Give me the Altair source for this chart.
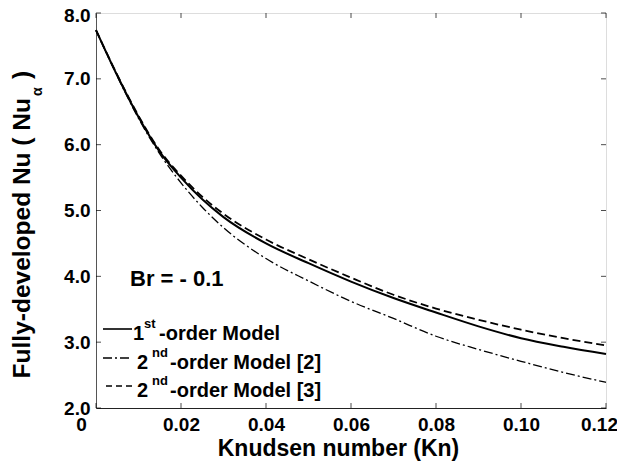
import altair as alt
import pandas as pd

# ---- data ----
kn = [0.0, 0.005, 0.01, 0.015, 0.02, 0.025, 0.03, 0.04, 0.05, 0.06, 0.07, 0.08, 0.09, 0.10, 0.11, 0.12]
nu_first = [7.74, 7.05, 6.42, 5.89, 5.50, 5.17, 4.90, 4.50, 4.20, 3.92, 3.67, 3.45, 3.24, 3.06, 2.93, 2.82]
nu_second_2 = [7.74, 7.04, 6.40, 5.86, 5.42, 5.05, 4.74, 4.27, 3.93, 3.62, 3.36, 3.09, 2.89, 2.71, 2.54, 2.39]
nu_second_3 = [7.74, 7.06, 6.44, 5.91, 5.53, 5.21, 4.95, 4.56, 4.26, 3.98, 3.72, 3.51, 3.34, 3.19, 3.06, 2.95]

x_ticks = [0.0, 0.02, 0.04, 0.06, 0.08, 0.10, 0.12]
y_ticks = [2.0, 3.0, 4.0, 5.0, 6.0, 7.0, 8.0]

W, H = 510, 395
FONT = "Liberation Sans"

df = pd.DataFrame({"kn": kn, "first": nu_first, "second2": nu_second_2, "second3": nu_second_3})

xs = alt.Scale(domain=[0, 0.12], nice=False, zero=False)
ys = alt.Scale(domain=[2, 8], nice=False, zero=False)

x_axis = alt.Axis(
    values=x_ticks, labelExpr="datum.value == 0 ? '0' : format(datum.value, '.2f')",
    title="Knudsen number (Kn)", titleFontSize=23, titleFont=FONT, titleFontWeight="bold",
    titleX=242, titleY=47, titleBaseline="alphabetic", titleAnchor="start", titleAlign="center",
    labelFontSize=19, labelFont=FONT, labelFontWeight="bold", labelPadding=7,
    labelOffset={"condition": [{"test": "datum.value == 0", "value": -15},
                               {"test": "datum.value > 0.11", "value": -7}], "value": 0},
    ticks=False, grid=False, labelFlush=False, labelOverlap=False, domainColor="#222",
)
y_axis = alt.Axis(
    values=y_ticks, format=".1f", title=None,
    labelFontSize=19, labelFont=FONT, labelFontWeight="bold", labelPadding=6,
    labelOffset={"condition": {"test": "datum.value == 8", "value": 2}, "value": 0},
    ticks=False, grid=False, labelFlush=False, labelOverlap=False, domainColor="#555",
)

base = alt.Chart(df)
line1 = base.mark_line(color="black", strokeWidth=2.0, interpolate="monotone").encode(
    x=alt.X("kn:Q", scale=xs, axis=x_axis), y=alt.Y("first:Q", scale=ys, axis=y_axis))
line2 = base.mark_line(color="black", strokeWidth=1.3, strokeDash=[9, 3, 2, 3], interpolate="monotone").encode(
    x=alt.X("kn:Q", scale=xs), y=alt.Y("second2:Q", scale=ys))
line3 = base.mark_line(color="black", strokeWidth=1.8, strokeDash=[8, 4], interpolate="monotone").encode(
    x=alt.X("kn:Q", scale=xs), y=alt.Y("second3:Q", scale=ys))

# inward ticks
xt = pd.DataFrame({"v": x_ticks})
yt = pd.DataFrame({"v": y_ticks})
tick_bottom = alt.Chart(xt).mark_tick(orient="vertical", color="black", thickness=1, size=5).encode(
    x=alt.X("v:Q", scale=xs), y=alt.value(H - 2.5))
tick_top = alt.Chart(xt).mark_tick(orient="vertical", color="black", thickness=1, size=5).encode(
    x=alt.X("v:Q", scale=xs), y=alt.value(2.5))
tick_left = alt.Chart(yt).mark_tick(orient="horizontal", color="black", thickness=1, size=5).encode(
    y=alt.Y("v:Q", scale=ys), x=alt.value(2.5))
tick_right = alt.Chart(yt).mark_tick(orient="horizontal", color="black", thickness=1, size=5).encode(
    y=alt.Y("v:Q", scale=ys), x=alt.value(W - 2.5))

one = pd.DataFrame({"a": [0]})


def txt(text, x, y, size, angle=0, align="left", baseline="alphabetic"):
    return alt.Chart(one).mark_text(
        text=text, font=FONT, fontWeight="bold", fontSize=size, color="black",
        align=align, baseline=baseline, angle=angle,
    ).encode(x=alt.value(x), y=alt.value(y))


def seg(x1, x2, y, dash=None, width=1.5):
    kw = {"color": "black", "strokeWidth": width}
    if dash:
        kw["strokeDash"] = dash
    return alt.Chart(one).mark_rule(**kw).encode(x=alt.value(x1), x2=alt.value(x2), y=alt.value(y))


# legend rows (baselines, plot coords)
r1, r2, r3 = 327, 356, 384
legend = [
    seg(7, 36, r1 - 11, width=1.6),
    txt("1", 37, r1, 20), txt("st", 48, r1 - 12, 13), txt("-order Model", 63, r1, 20),
    seg(7, 36, r2 - 11, dash=[9, 3, 2, 3], width=1.3),
    txt("2", 41, r2, 20), txt("nd", 56, r2 - 12, 13), txt("-order Model [2]", 74, r2, 20),
    seg(10, 37, r3 - 11, dash=[6, 4], width=1.6),
    txt("2", 41, r3, 20), txt("nd", 56, r3 - 12, 13), txt("-order Model [3]", 74, r3, 20),
    txt("Br = - 0.1", 34, 273, 22),
]

# y-axis title (rotated) with subscript alpha
ytitle = [
    txt("Fully-developed Nu ( Nu", -66, 85, 24.5, angle=270, align="right"),
    txt("\u03b1", -54, 83, 14, angle=270, align="left"),
    txt(")", -66, 66, 24.5, angle=270, align="left"),
]

chart = alt.layer(
    line1, line2, line3, tick_bottom, tick_top, tick_left, tick_right, *legend, *ytitle
).properties(
    width=W, height=H,
    autosize=alt.AutoSizeParams(type="none"),
    padding={"left": 88, "top": 5, "right": 11, "bottom": 53},
).configure_view(stroke="black", strokeWidth=1).configure(background="white")

chart.save("out.html", embed_options={"renderer": "svg", "actions": False})
